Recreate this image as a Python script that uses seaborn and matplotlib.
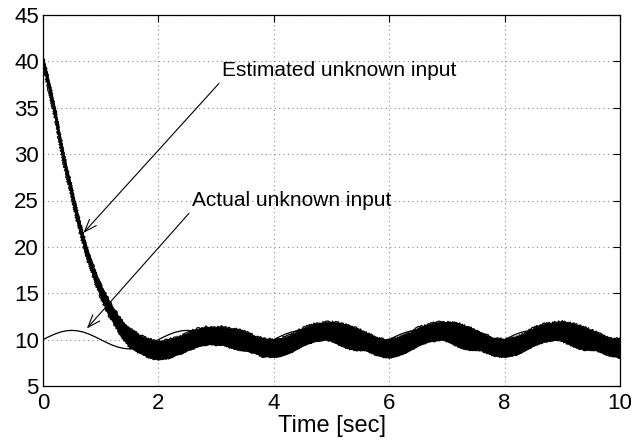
import numpy as np
import pandas as pd
import matplotlib
matplotlib.use("Agg")
import matplotlib.pyplot as plt
import seaborn as sns

# ---------------- data ----------------
time = [round(0.1 * i, 1) for i in range(101)]

actual_input = [
    10.0, 10.31, 10.59, 10.81, 10.95, 11.0, 10.95, 10.81, 10.59, 10.31,
    10.0, 9.69, 9.41, 9.19, 9.05, 9.0, 9.05, 9.19, 9.41, 9.69,
    10.0, 10.31, 10.59, 10.81, 10.95, 11.0, 10.95, 10.81, 10.59, 10.31,
    10.0, 9.69, 9.41, 9.19, 9.05, 9.0, 9.05, 9.19, 9.41, 9.69,
    10.0, 10.31, 10.59, 10.81, 10.95, 11.0, 10.95, 10.81, 10.59, 10.31,
    10.0, 9.69, 9.41, 9.19, 9.05, 9.0, 9.05, 9.19, 9.41, 9.69,
    10.0, 10.31, 10.59, 10.81, 10.95, 11.0, 10.95, 10.81, 10.59, 10.31,
    10.0, 9.69, 9.41, 9.19, 9.05, 9.0, 9.05, 9.19, 9.41, 9.69,
    10.0, 10.31, 10.59, 10.81, 10.95, 11.0, 10.95, 10.81, 10.59, 10.31,
    10.0, 9.69, 9.41, 9.19, 9.05, 9.0, 9.05, 9.19, 9.41, 9.69,
    10.0,
]

# upper / lower envelope of the noisy estimated signal
estimated_high = [
    40.4, 38.0, 35.2, 31.8, 28.9, 26.3, 23.6, 21.2, 19.2, 17.4,
    15.9, 14.7, 13.6, 12.6, 11.8, 11.2, 10.8, 10.4, 10.15, 9.95,
    9.8, 9.9, 10.05, 10.2, 10.45, 10.7, 11.05, 11.2, 11.35, 11.4,
    11.3, 11.45, 11.25, 11.2, 11.05, 10.85, 10.65, 10.3, 10.2, 10.05,
    10.0, 10.1, 10.3, 10.55, 10.9, 11.25, 11.5, 11.7, 11.8, 11.9,
    11.9, 11.85, 11.7, 11.5, 11.3, 11.05, 10.75, 10.45, 10.2, 10.05,
    10.0, 10.15, 10.3, 10.6, 10.9, 11.3, 11.5, 11.7, 11.85, 11.9,
    11.9, 11.85, 11.75, 11.5, 11.3, 11.05, 10.75, 10.45, 10.2, 10.1,
    10.05, 10.1, 10.3, 10.55, 10.9, 11.25, 11.55, 11.7, 11.8, 11.9,
    11.95, 11.85, 11.7, 11.5, 11.3, 11.05, 10.75, 10.5, 10.2, 10.05,
    10.2,
]
estimated_low = [
    39.5, 36.9, 34.1, 30.7, 27.8, 25.2, 22.5, 20.1, 18.1, 16.2,
    14.6, 13.1, 12.0, 10.95, 10.0, 9.2, 8.8, 8.5, 8.2, 7.95,
    7.85, 7.95, 8.05, 8.35, 8.5, 8.85, 9.05, 9.35, 9.4, 9.55,
    9.4, 9.5, 9.25, 9.05, 8.9, 8.85, 8.65, 8.5, 8.15, 8.2,
    8.1, 8.2, 8.4, 8.65, 9.0, 9.35, 9.6, 9.8, 9.9, 10.0,
    9.85, 9.55, 9.25, 9.05, 8.9, 8.85, 8.85, 8.55, 8.3, 8.15,
    8.05, 8.2, 8.4, 8.65, 9.0, 9.35, 9.6, 9.8, 9.9, 10.0,
    9.85, 9.55, 9.25, 9.05, 8.9, 8.85, 8.85, 8.55, 8.3, 8.2,
    8.15, 8.25, 8.4, 8.65, 9.0, 9.35, 9.6, 9.8, 9.9, 10.0,
    9.85, 9.55, 9.25, 9.05, 8.9, 8.85, 8.85, 8.55, 8.3, 8.2,
    8.05,
]

x_ticks = [0, 2, 4, 6, 8, 10]
y_ticks = [5, 10, 15, 20, 25, 30, 35, 40, 45]
x_label = "Time [sec]"
label_estimated = "Estimated unknown input"
label_actual = "Actual unknown input"

df = pd.DataFrame({"t": time, "actual": actual_input,
                   "hi": estimated_high, "lo": estimated_low})

# ---------------- style ----------------
sns.set_theme(style="white")
plt.rcParams["font.family"] = ["Liberation Sans", "DejaVu Sans"]
plt.rcParams["text.color"] = "black"

fig = plt.figure(figsize=(6.36, 4.45), dpi=100)
ax = fig.add_axes([43 / 636, 1 - 386 / 445, (620 - 43) / 636, (386 - 15) / 445])
ax.set_axisbelow(True)

sns.lineplot(data=df, x="t", y="actual", color="black", lw=0.9, ax=ax, zorder=2)
band = ax.fill_between(df["t"], df["lo"], df["hi"], color="black",
                       lw=0.6, edgecolor="black", zorder=3)
n_before = len(ax.lines)
sns.lineplot(data=df, x="t", y="hi", color="black", lw=0.9, ax=ax, zorder=3)
sns.lineplot(data=df, x="t", y="lo", color="black", lw=0.9, ax=ax, zorder=3)
# noisy texture on the edges of the estimated signal band
for ln in ax.lines[n_before:]:
    ln.set_sketch_params(scale=1.0, length=1.5, randomness=2.0)

ax.set_xlim(0, 10)
ax.set_ylim(5, 45)
ax.set_xticks(x_ticks)
ax.set_yticks(y_ticks)
ax.set_xticklabels([str(v) for v in x_ticks])
ax.set_yticklabels([str(v) for v in y_ticks])
ax.set_xlabel(x_label, fontsize=17, color="black", labelpad=1)
ax.set_ylabel("")

ax.grid(True, color="#8a8a8a", linestyle=(0, (1, 3)), linewidth=0.8)
for s in ax.spines.values():
    s.set_visible(True)
    s.set_color("black")
    s.set_linewidth(0.9)
ax.tick_params(axis="both", direction="in", length=5, width=0.8,
               top=True, right=True, colors="black", labelsize=16)
ax.tick_params(axis="x", pad=5)
ax.tick_params(axis="y", pad=3)

arrow = dict(arrowstyle="->,head_length=0.6,head_width=0.22", color="black",
             lw=0.8, shrinkA=0, shrinkB=0, relpos=(0.0, 0.0))
ax.annotate(label_estimated, xy=(0.70, 21.5), xytext=(3.10, 38.4),
            fontsize=15, ha="left", va="baseline", color="black",
            arrowprops=arrow, zorder=5)
ax.annotate(label_actual, xy=(0.76, 11.2), xytext=(2.58, 24.4),
            fontsize=15, ha="left", va="baseline", color="black",
            arrowprops=arrow, zorder=5)

fig.savefig("out.png", dpi=100)
